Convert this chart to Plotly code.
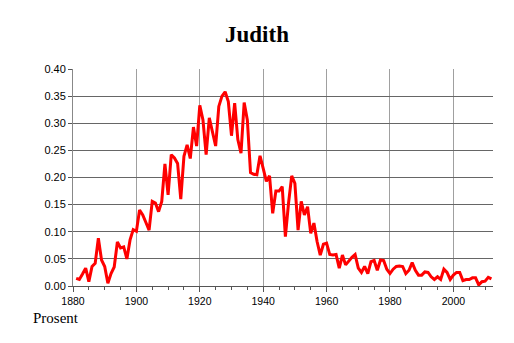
import plotly.graph_objects as go

years = list(range(1881, 2013))
values = [
    0.014, 0.012, 0.022, 0.033, 0.008, 0.036, 0.042, 0.088, 0.048, 0.036,
    0.005, 0.023, 0.035, 0.081, 0.070, 0.072, 0.050, 0.085, 0.104, 0.101,
    0.140, 0.131, 0.117, 0.103, 0.156, 0.153, 0.137, 0.156, 0.225, 0.168,
    0.242, 0.236, 0.226, 0.160, 0.239, 0.260, 0.235, 0.293, 0.258, 0.333,
    0.306, 0.242, 0.310, 0.285, 0.258, 0.331, 0.350, 0.358, 0.340, 0.277,
    0.337, 0.270, 0.245, 0.338, 0.306, 0.209, 0.206, 0.205, 0.240, 0.217,
    0.193, 0.203, 0.134, 0.175, 0.175, 0.183, 0.091, 0.153, 0.203, 0.189,
    0.103, 0.156, 0.131, 0.146, 0.097, 0.116, 0.082, 0.057, 0.077, 0.079,
    0.058, 0.057, 0.058, 0.033, 0.057, 0.039, 0.047, 0.053, 0.058, 0.033,
    0.025, 0.036, 0.023, 0.045, 0.047, 0.029, 0.048, 0.047, 0.031, 0.023,
    0.031, 0.036, 0.037, 0.036, 0.023, 0.029, 0.043, 0.029, 0.020, 0.020,
    0.026, 0.025, 0.017, 0.012, 0.017, 0.012, 0.031, 0.025, 0.012, 0.020,
    0.025, 0.025, 0.010, 0.012, 0.012, 0.015, 0.015, 0.002, 0.008, 0.009,
    0.016, 0.013,
]
y_ticks = [0.0, 0.05, 0.10, 0.15, 0.20, 0.25, 0.30, 0.35, 0.40]
x_ticks = [1880, 1900, 1920, 1940, 1960, 1980, 2000]
title_text = "Judith"
unit_text = "Prosent"

fig = go.Figure()
fig.add_trace(go.Scatter(
    x=years, y=values, mode="lines",
    line=dict(color="#ff0000", width=3),
    hoverinfo="skip",
))

fig.update_layout(
    width=514, height=343,
    margin=dict(l=73, r=21, t=69, b=57),
    paper_bgcolor="white", plot_bgcolor="white",
    showlegend=False,
    title=dict(
        text="<b>" + title_text + "</b>",
        x=0.5, xref="container", xanchor="center",
        y=1 - 34 / 343, yref="container", yanchor="middle",
        font=dict(family="Liberation Serif", size=23, color="black"),
    ),
    annotations=[dict(
        text=unit_text, xref="paper", yref="paper",
        x=(31 - 73) / 420.0, y=(286 - 318) / 217.0,
        xanchor="left", yanchor="middle", showarrow=False,
        font=dict(family="Liberation Serif", size=15, color="black"),
    )],
)

fig.update_xaxes(
    range=[1880, 2012.5],
    tickvals=x_ticks, ticktext=[str(v) for v in x_ticks],
    ticks="outside", ticklen=5, tickcolor="#555555",
    tickfont=dict(family="Liberation Sans", size=10.5, color="black"),
    showgrid=True, gridcolor="#a0a0a0", gridwidth=1,
    showline=True, linecolor="#555555", linewidth=1,
    minor=dict(dtick=5, tick0=1880, ticks="outside", ticklen=3, tickcolor="#555555", showgrid=False),
    zeroline=False, fixedrange=True,
)
fig.update_yaxes(
    range=[0, 0.40],
    tickvals=y_ticks, ticktext=["%.2f" % v for v in y_ticks],
    ticks="outside", ticklen=4, tickcolor="#555555",
    tickfont=dict(family="Liberation Sans", size=11, color="black"),
    showgrid=True, gridcolor="#666666", gridwidth=1,
    showline=True, linecolor="#888888", linewidth=1,
    zeroline=False, fixedrange=True,
)

fig.write_html("out.html", config={"displayModeBar": False})
